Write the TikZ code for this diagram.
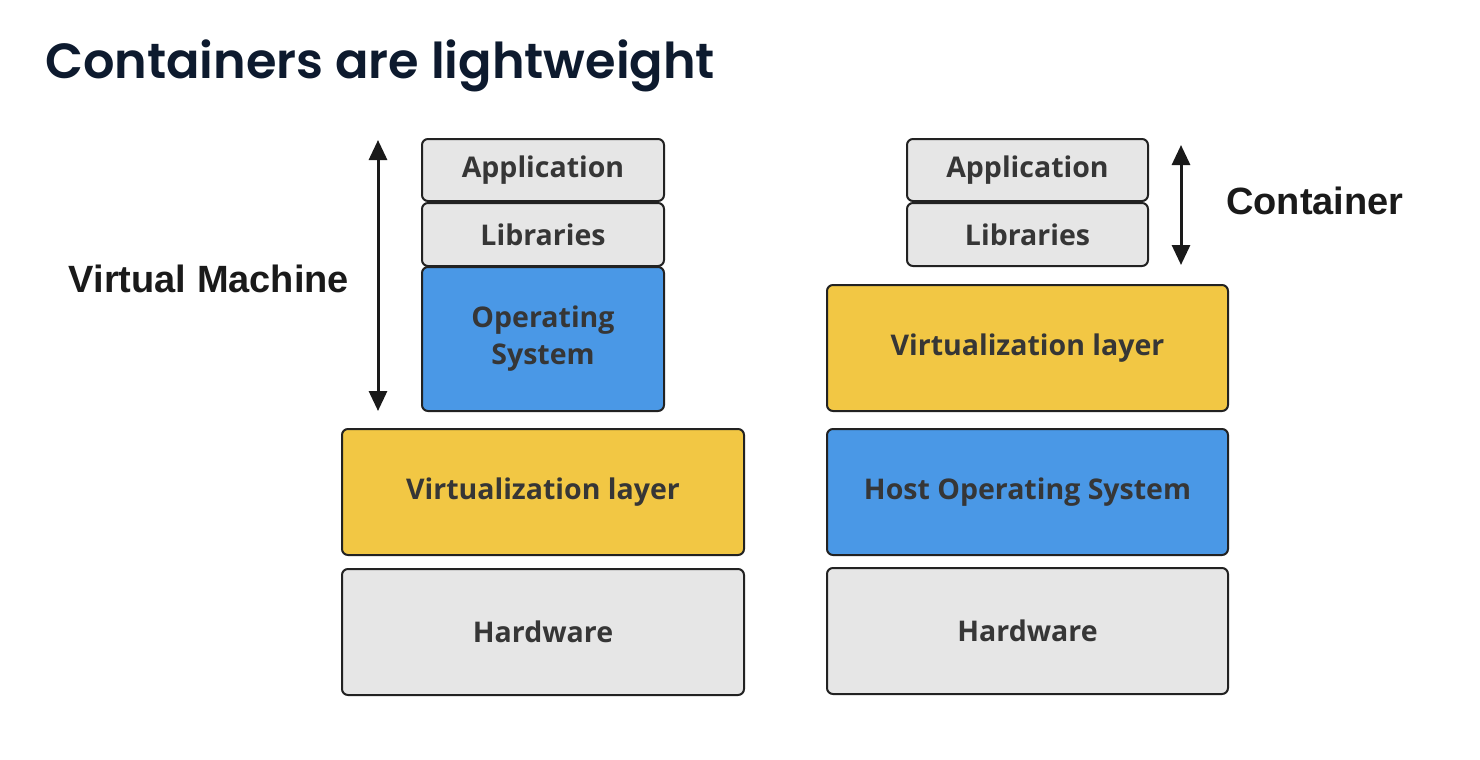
\documentclass[tikz,border=0pt]{standalone}
\usepackage{fontspec}
\setmainfont{Open Sans}
\newfontfamily\titlefont{Poppins}[UprightFont=* SemiBold]
\newfontfamily\labelfont{Liberation Sans}
\usetikzlibrary{arrows.meta}
\definecolor{boxgray}{HTML}{E6E6E6}
\definecolor{boxblue}{HTML}{4A98E6}
\definecolor{boxyellow}{HTML}{F2C744}
\definecolor{boxline}{HTML}{222222}
\definecolor{boxtext}{HTML}{363636}
\definecolor{titlecol}{HTML}{0D1A2E}
\definecolor{labelcol}{HTML}{1A1A1A}
\tikzset{
  layer/.style={draw=boxline, line width=2pt, rounded corners=6pt, text=boxtext,
    font=\fontsize{28.5}{37}\selectfont\bfseries, align=center, anchor=north west, inner sep=0pt},
  graybox/.style={layer, fill=boxgray},
  bluebox/.style={layer, fill=boxblue},
  yellowbox/.style={layer, fill=boxyellow},
  sidelabel/.style={font=\labelfont\fontsize{38}{44}\selectfont\bfseries, text=labelcol, inner sep=0pt},
  dimarrow/.style={line width=3pt, draw=labelcol, {Triangle[width=18pt,length=20pt]}-{Triangle[width=18pt,length=20pt]}}
}
\begin{document}
\begin{tikzpicture}[x=1pt,y=-1pt]
\useasboundingbox (0,0) rectangle (1480,760);
\node[anchor=base west, inner sep=0pt, text=titlecol, font=\titlefont\fontsize{49.4}{56}\selectfont] (title) at (45,78) {Containers are lightweight};
% left stack
\node[graybox, minimum width=242pt, minimum height=62pt] (lapp) at (421,138) {Application};
\node[graybox, minimum width=242pt, minimum height=63pt] (llib) at (421,202) {Libraries};
\node[bluebox, minimum width=242pt, minimum height=144pt] (los) at (421,266) {Operating\\System};
\node[yellowbox, minimum width=402pt, minimum height=126pt] (lvirt) at (341,428) {Virtualization layer};
\node[graybox, minimum width=402pt, minimum height=126pt] (lhw) at (341,568) {Hardware};
\coordinate (vmtop) at (378,140);
\coordinate (vmbot) at (378,411);
\draw[dimarrow] (vmtop) -- (vmbot);
\node[sidelabel] (vmlabel) at (209,279) {Virtual Machine};
% right stack
\node[graybox, minimum width=241pt, minimum height=62pt] (rapp) at (906,138) {Application};
\node[graybox, minimum width=241pt, minimum height=63pt] (rlib) at (906,202) {Libraries};
\node[yellowbox, minimum width=401pt, minimum height=126pt] (rvirt) at (826,284) {Virtualization layer};
\node[bluebox, minimum width=401pt, minimum height=126pt] (ros) at (826,428) {Host Operating System};
\node[graybox, minimum width=401pt, minimum height=126pt] (rhw) at (826,567) {Hardware};
\coordinate (ctop) at (1181,145);
\coordinate (cbot) at (1181,265);
\draw[dimarrow] (ctop) -- (cbot);
\node[sidelabel, anchor=west] (clabel) at (1226,201) {Container};
\end{tikzpicture}
\end{document}
